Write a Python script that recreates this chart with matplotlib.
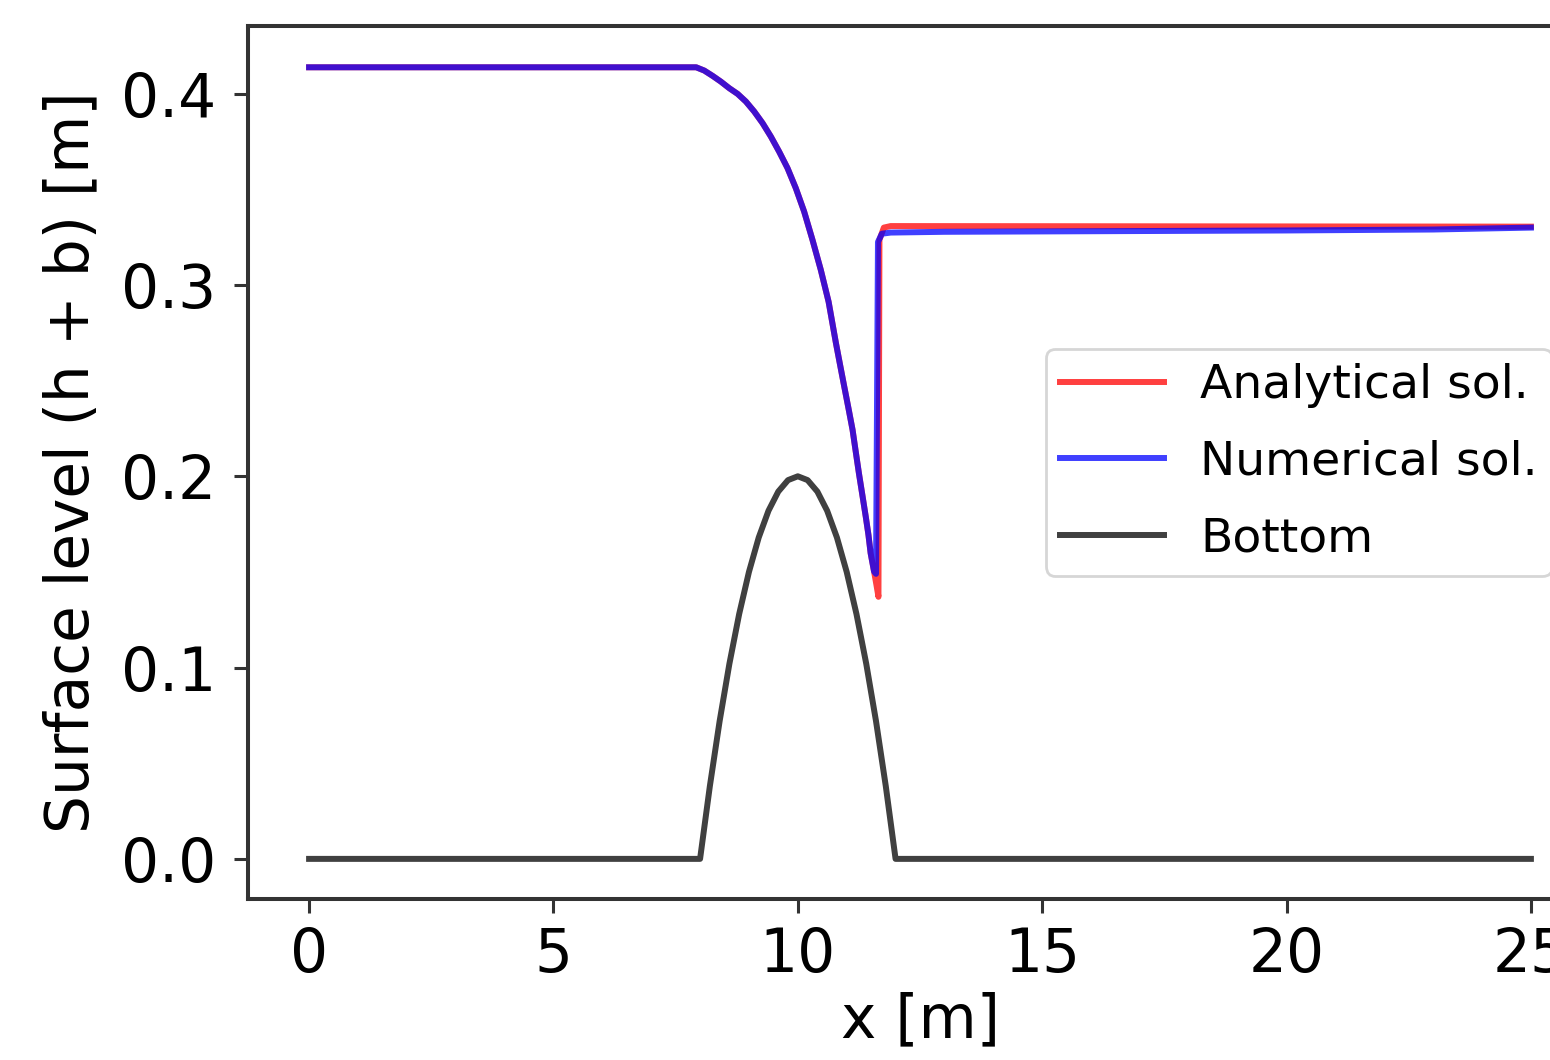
import matplotlib
matplotlib.use("Agg")
import matplotlib.pyplot as plt

# ---- data ----
x_analytical = [0, 7.92, 8.085, 8.257, 8.426, 8.596, 8.768, 8.937, 9.107, 9.279, 9.448,
                9.618, 9.789, 9.959, 10.129, 10.30, 10.47, 10.63, 10.78, 10.865, 10.95,
                11.036, 11.12, 11.185, 11.25, 11.32, 11.39, 11.445, 11.49, 11.56, 11.61,
                11.65, 11.67, 11.76, 11.90, 25]
y_analytical = [0.4138, 0.4138, 0.4121, 0.4093, 0.4063, 0.4029, 0.3999, 0.3959, 0.3907,
                0.3846, 0.3776, 0.3697, 0.3611, 0.3506, 0.3384, 0.3236, 0.3079, 0.2912,
                0.2696, 0.2582, 0.2469, 0.2356, 0.2243, 0.2129, 0.2016, 0.1903, 0.1789,
                0.1694, 0.1598, 0.1502, 0.143, 0.137, 0.3236, 0.3300, 0.3308, 0.3305]

x_numerical = [0, 7.92, 8.085, 8.257, 8.426, 8.596, 8.768, 8.937, 9.107, 9.279, 9.448,
               9.618, 9.789, 9.959, 10.129, 10.30, 10.47, 10.63, 10.78, 10.865, 10.95,
               11.036, 11.12, 11.185, 11.25, 11.32, 11.39, 11.445, 11.49, 11.56, 11.60,
               11.64, 11.72, 11.90, 13, 15, 17, 20, 23, 25]
y_numerical = [0.4138, 0.4138, 0.4121, 0.4093, 0.4063, 0.4029, 0.3999, 0.3959, 0.3907,
               0.3846, 0.3776, 0.3697, 0.3611, 0.3506, 0.3384, 0.3236, 0.3079, 0.2912,
               0.2696, 0.2582, 0.2469, 0.2356, 0.2243, 0.2129, 0.2016, 0.1903, 0.1789,
               0.1694, 0.1598, 0.1502, 0.149, 0.3225, 0.3268, 0.3274, 0.3278, 0.3280,
               0.3282, 0.3285, 0.3290, 0.3300]

x_bottom = [0, 8.0, 8.2, 8.4, 8.6, 8.8, 9.0, 9.2, 9.4, 9.6, 9.8, 10.0, 10.2, 10.4, 10.6,
            10.8, 11.0, 11.2, 11.4, 11.6, 11.8, 12.0, 25]
y_bottom = [0, 0, 0.038, 0.072, 0.102, 0.128, 0.150, 0.168, 0.182, 0.192, 0.198, 0.200,
            0.198, 0.192, 0.182, 0.168, 0.150, 0.128, 0.102, 0.072, 0.038, 0, 0]

x_ticks = [0, 5, 10, 15, 20, 25]
y_ticks = [0.0, 0.1, 0.2, 0.3, 0.4]

labels = ["Analytical sol.", "Numerical sol.", "Bottom"]

# ---- figure ----
fig = plt.figure(figsize=(15.5, 10.6), dpi=100)
ax = fig.add_axes([0.16, 0.1522, 0.8671, 0.8233])

lw = 4.3
ax.plot(x_analytical, y_analytical, color="red", alpha=0.75, lw=lw, label=labels[0])
ax.plot(x_numerical, y_numerical, color="blue", alpha=0.75, lw=lw, label=labels[1])
ax.plot(x_bottom, y_bottom, color="black", alpha=0.75, lw=lw, label=labels[2])

ax.set_xlim(-1.25, 26.25)
ax.set_ylim(-0.0208, 0.4354)
ax.set_xticks(x_ticks)
ax.set_yticks(y_ticks)
ax.set_xticklabels([str(t) for t in x_ticks])
ax.set_yticklabels([f"{t:.1f}" for t in y_ticks])

for s in ax.spines.values():
    s.set_linewidth(2.9)
    s.set_color("#333333")

ax.tick_params(axis="both", labelsize=43, length=10, width=2.2, color="#333333")
ax.tick_params(axis="x", pad=10)
ax.tick_params(axis="y", pad=13)

ax.set_xlabel("x [m]", fontsize=43, labelpad=4)
ax.set_ylabel("Surface level (h + b) [m]", fontsize=43, labelpad=14)

leg = ax.legend(loc="center right", fontsize=34, handlelength=2.2,
                handletextpad=0.77, labelspacing=0.67, borderpad=0.3,
                borderaxespad=0.85)
leg.get_frame().set_linewidth(2.0)

fig.savefig("out.png", dpi=100)
